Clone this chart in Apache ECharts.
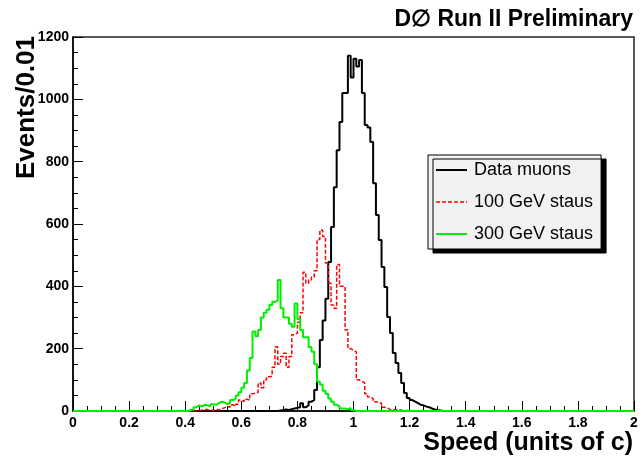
<!DOCTYPE html>
<html>
<head>
<meta charset="utf-8">
<script src="https://cdn.jsdelivr.net/npm/echarts@6/dist/echarts.min.js"></script>
<style>
html,body{margin:0;padding:0;background:#fff;}
#chart{width:643px;height:461px;}
</style>
</head>
<body>
<div id="chart"></div>
<script>
// ---- data (bin width 0.01, bins from 0 to 2) ----
const binWidth = 0.01;
const nBins = 200;
const xTickLabels = ['0','0.2','0.4','0.6','0.8','1','1.2','1.4','1.6','1.8','2'];
const yTickLabels = ['0','200','400','600','800','1000','1200'];
const seriesNames = ['Data muons', '100 GeV staus', '300 GeV staus'];

// Data muons: counts for bins starting at bin index 73 (speed 0.73)
const muonStart = 73;
const muonCounts = [2,3,5,3,6,8,10,12,25,12,18,30,35,67,140,228,290,360,478,590,
  718,837,927,1020,1020,1140,1070,1130,1105,1126,1020,918,910,863,731,629,549,462,398,302,
  250,186,154,122,90,58,42,35,30,25,20,18,14,12,8,5,3,2];

// 100 GeV staus: counts for bins starting at bin index 44 (speed 0.44)
const stau100Start = 44;
const stau100Counts = [2,3,5,5,3,2,5,3,8,10,15,12,20,15,22,35,30,38,35,55,
  57,60,90,75,100,110,112,140,205,150,175,185,140,175,245,250,285,315,445,410,
  420,430,450,550,580,560,475,410,340,330,470,400,400,260,200,195,190,100,95,90,
  55,45,40,30,28,25,12,10,5,3,5,2,3,0,2];

// 300 GeV staus: counts for bins starting at bin index 41 (speed 0.41)
const stau300Start = 41;
const stau300Counts = [3,5,12,18,15,20,18,15,22,20,25,30,28,22,25,35,38,50,60,75,
  90,130,170,255,240,260,300,315,325,340,350,355,420,330,300,300,280,270,345,295,
  260,237,237,205,190,150,95,85,65,55,40,30,20,15,8,8,5,10,3];

function buildHist(start, counts) {
  const full = new Array(nBins).fill(0);
  counts.forEach((c, k) => { full[start + k] = c; });
  const pts = full.map((c, i) => [+(i * binWidth).toFixed(2), c]);
  pts.push([+(nBins * binWidth).toFixed(2), full[nBins - 1]]);
  return pts;
}

const chart = echarts.init(document.getElementById('chart'), null, {renderer: 'canvas'});
const FONT = 'Liberation Sans, Arial, Helvetica, sans-serif';

const option = {
  animation: false,
  backgroundColor: '#ffffff',
  grid: {
    left: 73, right: 9, top: 37, bottom: 50,
    show: true, borderColor: '#222', borderWidth: 1.5, backgroundColor: 'transparent'
  },
  xAxis: {
    type: 'value', min: 0, max: 2, interval: 0.2,
    axisLine: {show: true, onZero: false, lineStyle: {color: '#000', width: 1.5}},
    axisTick: {show: true, inside: true, length: 10, lineStyle: {color: '#000', width: 1}},
    minorTick: {show: true, splitNumber: 4, length: 5, lineStyle: {color: '#000', width: 1}},
    splitLine: {show: false},
    axisLabel: {
      color: '#000', fontFamily: FONT, fontWeight: 'bold', fontSize: 14, margin: 5,
      formatter: (v) => xTickLabels[Math.round(v / 0.2)]
    }
  },
  yAxis: {
    type: 'value', min: 0, max: 1200, interval: 200,
    axisLine: {show: true, lineStyle: {color: '#000', width: 1.5}},
    axisTick: {show: true, inside: true, length: 10, lineStyle: {color: '#000', width: 1}},
    minorTick: {show: true, splitNumber: 4, length: 5, lineStyle: {color: '#000', width: 1}},
    splitLine: {show: false},
    axisLabel: {
      color: '#000', fontFamily: FONT, fontWeight: 'bold', fontSize: 14, margin: 4,
      formatter: (v) => yTickLabels[Math.round(v / 200)]
    }
  },
  legend: {
    orient: 'vertical', left: 428, top: 155,
    itemWidth: 31, itemHeight: 18, itemGap: 14,
    padding: [6, 8, 6, 7],
    backgroundColor: '#f2f2f2', borderColor: '#000', borderWidth: 1,
    shadowColor: '#000', shadowBlur: 0, shadowOffsetX: 5, shadowOffsetY: 4,
    itemStyle: {opacity: 0},
    lineStyle: {type: 'inherit', width: 'inherit'},
    textStyle: {color: '#000', fontFamily: FONT, fontSize: 18, padding: [0, 0, 0, 2]},
    data: seriesNames
  },
  graphic: [
    {type: 'text', right: 10, top: 8,
      style: {text: 'D\u2205 Run II Preliminary', fill: '#000', font: 'bold 23px ' + FONT}},
    {type: 'text', x: 27, y: 36, rotation: Math.PI / 2,
      style: {text: 'Events/0.01', fill: '#000', font: 'bold 26px ' + FONT, textAlign: 'right', textVerticalAlign: 'middle'}},
    {type: 'text', right: 10, top: 431,
      style: {text: 'Speed (units of c)', fill: '#000', font: 'bold 25px ' + FONT}}
  ],
  series: [
    {name: seriesNames[0], type: 'line', step: 'end', symbol: 'none', data: buildHist(muonStart, muonCounts),
      lineStyle: {color: '#000', width: 2}, itemStyle: {color: '#000'}, z: 2},
    {name: seriesNames[1], type: 'line', step: 'end', symbol: 'none', data: buildHist(stau100Start, stau100Counts),
      lineStyle: {color: '#ff0000', width: 1.5, type: [4, 2]}, itemStyle: {color: '#ff0000'}, z: 3},
    {name: seriesNames[2], type: 'line', step: 'end', symbol: 'none', data: buildHist(stau300Start, stau300Counts),
      lineStyle: {color: '#00ee00', width: 2}, itemStyle: {color: '#00ee00'}, z: 4}
  ]
};
chart.setOption(option);
</script>
</body>
</html>
